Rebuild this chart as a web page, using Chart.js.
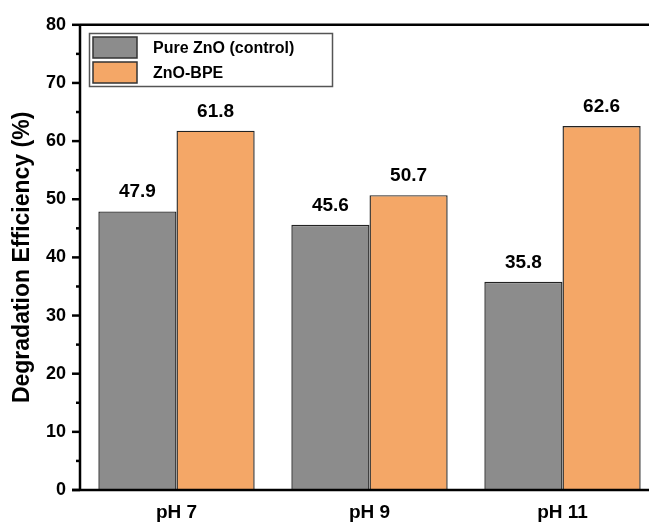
<!DOCTYPE html>
<html>
<head>
<meta charset="utf-8">
<script src="https://cdn.jsdelivr.net/npm/chart.js@4.4.1/dist/chart.umd.min.js"></script>
<style>
html,body{margin:0;padding:0;background:#fff;overflow:hidden;}
#wrap{width:649px;height:525px;overflow:hidden;position:relative;}
canvas{display:block;}
</style>
</head>
<body>
<div id="wrap"><canvas id="c" width="700" height="525"></canvas></div>
<script>
const categories = ["pH 7", "pH 9", "pH 11"];
const pureZnO = [47.9, 45.6, 35.8];
const znoBPE = [61.8, 50.7, 62.6];
const seriesNames = ["Pure ZnO (control)", "ZnO-BPE"];
const yMajorTicks = [0, 10, 20, 30, 40, 50, 60, 70, 80];
const colors = ["#8c8c8c", "#f4a767"];

const FONT = "'Liberation Sans', Arial, sans-serif";

const decor = {
  id: 'decor',
  afterDatasetsDraw(chart) {
    const ctx = chart.ctx;
    const a = chart.chartArea;
    const y = chart.scales.y;
    ctx.save();
    // frame
    ctx.strokeStyle = '#000';
    ctx.lineWidth = 2.5;
    ctx.beginPath();
    ctx.moveTo(a.left, a.top); ctx.lineTo(a.right, a.top);
    ctx.moveTo(a.left, a.top); ctx.lineTo(a.left, a.bottom);
    ctx.moveTo(a.left - 8, a.bottom); ctx.lineTo(a.right, a.bottom);
    ctx.stroke();
    // y ticks major + minor
    for (let v = 0; v <= 80; v += 5) {
      const py = y.getPixelForValue(v);
      const len = (v % 10 === 0) ? 8 : 4;
      ctx.beginPath();
      ctx.moveTo(a.left - len, py); ctx.lineTo(a.left, py);
      ctx.stroke();
    }
    // data labels
    ctx.fillStyle = '#000';
    ctx.font = "bold 19px " + FONT;
    ctx.textAlign = 'center';
    ctx.textBaseline = 'alphabetic';
    chart.data.datasets.forEach((ds, i) => {
      const meta = chart.getDatasetMeta(i);
      meta.data.forEach((bar, j) => {
        ctx.fillText(ds.data[j].toFixed(1), bar.x, bar.y - 14);
      });
    });
    // legend
    ctx.strokeStyle = '#555';
    ctx.lineWidth = 1.5;
    ctx.strokeRect(89.5, 33.5, 243, 53);
    chart.data.datasets.forEach((ds, i) => {
      const sy = 37 + i * 25;
      ctx.fillStyle = ds.backgroundColor;
      ctx.fillRect(93, sy, 44, 21);
      ctx.strokeStyle = '#333';
      ctx.lineWidth = 1.5;
      ctx.strokeRect(93, sy, 44, 21);
      ctx.fillStyle = '#000';
      ctx.font = "bold 16px " + FONT;
      ctx.textAlign = 'left';
      ctx.textBaseline = 'middle';
      ctx.fillText(ds.label, 153, sy + 12);
    });
    ctx.restore();
  }
};

new Chart(document.getElementById('c'), {
  type: 'bar',
  data: {
    labels: categories,
    datasets: [
      { label: seriesNames[0], data: pureZnO, backgroundColor: colors[0], borderColor: '#222', borderWidth: 1.4 },
      { label: seriesNames[1], data: znoBPE, backgroundColor: colors[1], borderColor: '#222', borderWidth: 1.4 }
    ]
  },
  options: {
    responsive: false,
    devicePixelRatio: 1,
    animation: false,
    layout: { padding: { left: 0, top: 24, right: 41, bottom: 0 } },
    plugins: { legend: { display: false }, tooltip: { enabled: false } },
    datasets: { bar: { categoryPercentage: 0.81, barPercentage: 1.0 } },
    scales: {
      x: {
        grid: { display: false, drawTicks: false },
        border: { display: false },
        ticks: { color: '#000', font: { family: FONT, size: 19, weight: 'bold' }, padding: 11 },
        afterFit(s) { s.height = 35; }
      },
      y: {
        min: 0, max: 80,
        afterBuildTicks(s) { s.ticks = yMajorTicks.map(v => ({ value: v })); },
        grid: { display: false, drawTicks: false },
        border: { display: false },
        ticks: { color: '#000', font: { family: FONT, size: 18, weight: 'bold' }, padding: 14 },
        title: { display: true, text: 'Degradation Efficiency (%)', color: '#000',
                 font: { family: FONT, size: 23, weight: 'bold' }, padding: { top: 9, bottom: 0 } },
        afterFit(s) { s.width = 80; }
      }
    }
  },
  plugins: [decor]
});
</script>
</body>
</html>
